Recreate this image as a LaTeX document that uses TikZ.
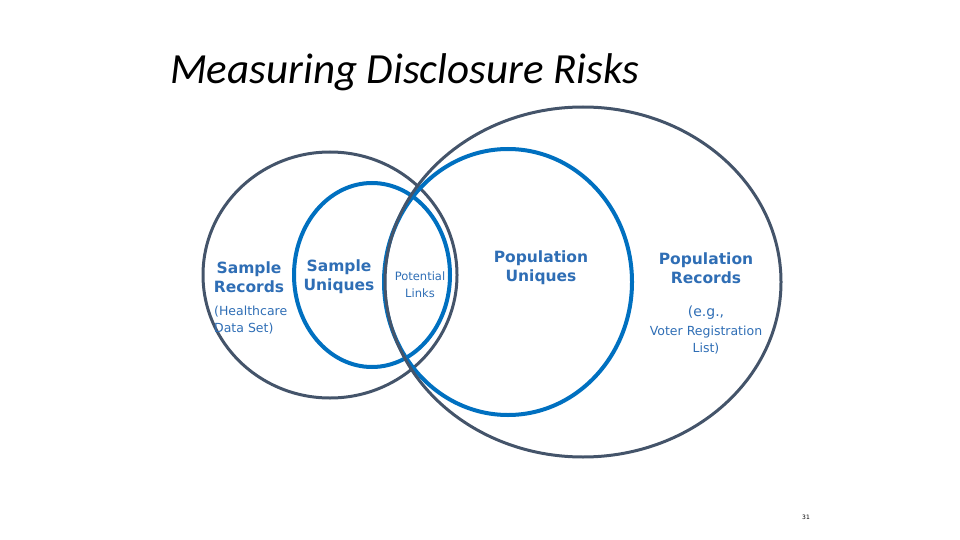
\documentclass[tikz,border=0pt]{standalone}
\usepackage{fontspec}
\setmainfont{DejaVu Sans}
\newfontfamily\titlefont{Carlito}
\usetikzlibrary{positioning}
\definecolor{slategray}{HTML}{44546A}
\definecolor{riskblue}{HTML}{0070C0}
\definecolor{labelblue}{HTML}{2F6EB5}
\tikzstyle{setring} = [draw=slategray, line width=3pt]
\tikzstyle{uniquering} = [draw=riskblue, line width=4pt]
\tikzstyle{setlabel} = [text=labelblue, align=center, font=\fontsize{15.5}{19}\selectfont\bfseries, inner sep=0pt]
\tikzstyle{notelabel} = [text=labelblue, align=center, font=\fontsize{12.5}{17}\selectfont, inner sep=0pt]
\newcommand{\ring}[5]{\draw[#1] (#2,#3) ellipse [x radius=#4, y radius=#5];}

\begin{document}
\begin{tikzpicture}[x=1pt,y=-1pt]
  \useasboundingbox (0,0) rectangle (960,540);

  % title
  \node (TITLE) [anchor=west, font=\titlefont\itshape\fontsize{43}{46}\selectfont, inner sep=0pt] at (170,72) {Measuring Disclosure Risks};

  % the four sets
  \ring{setring}{330}{275}{127}{123}
  \ring{uniquering}{372}{275}{78}{92}
  \ring{uniquering}{508}{282}{124}{133}
  \ring{setring}{583}{282}{198}{175}

  % labels
  \node (SAMPLEREC) [setlabel] at (249,277) {Sample\\Records};
  \node (HEALTH) [notelabel, align=left, anchor=north west] at (214,306) {(Healthcare\\Data Set)};
  \node (SAMPLEUNI) [setlabel] at (339,277) {Sample\\Uniques};
  \node (LINKS) [notelabel, font=\fontsize{11.5}{17}\selectfont] at (420,285) {Potential\\Links};
  \node (POPUNI) [setlabel] at (541,268) {Population\\Uniques};
  \node (POPREC) [setlabel] at (706,268) {Population\\Records};
  \node (EXAMPLE) [notelabel, below=22pt of POPREC, font=\fontsize{14}{17}\selectfont] {(e.g.,};
  \node (VOTER) [notelabel, below=6pt of EXAMPLE, font=\fontsize{12.5}{17}\selectfont] {Voter Registration\\List)};

  % slide number
  \node (PAGE) [font=\fontsize{6}{7}\selectfont] at (806,517) {31};
\end{tikzpicture}
\end{document}
